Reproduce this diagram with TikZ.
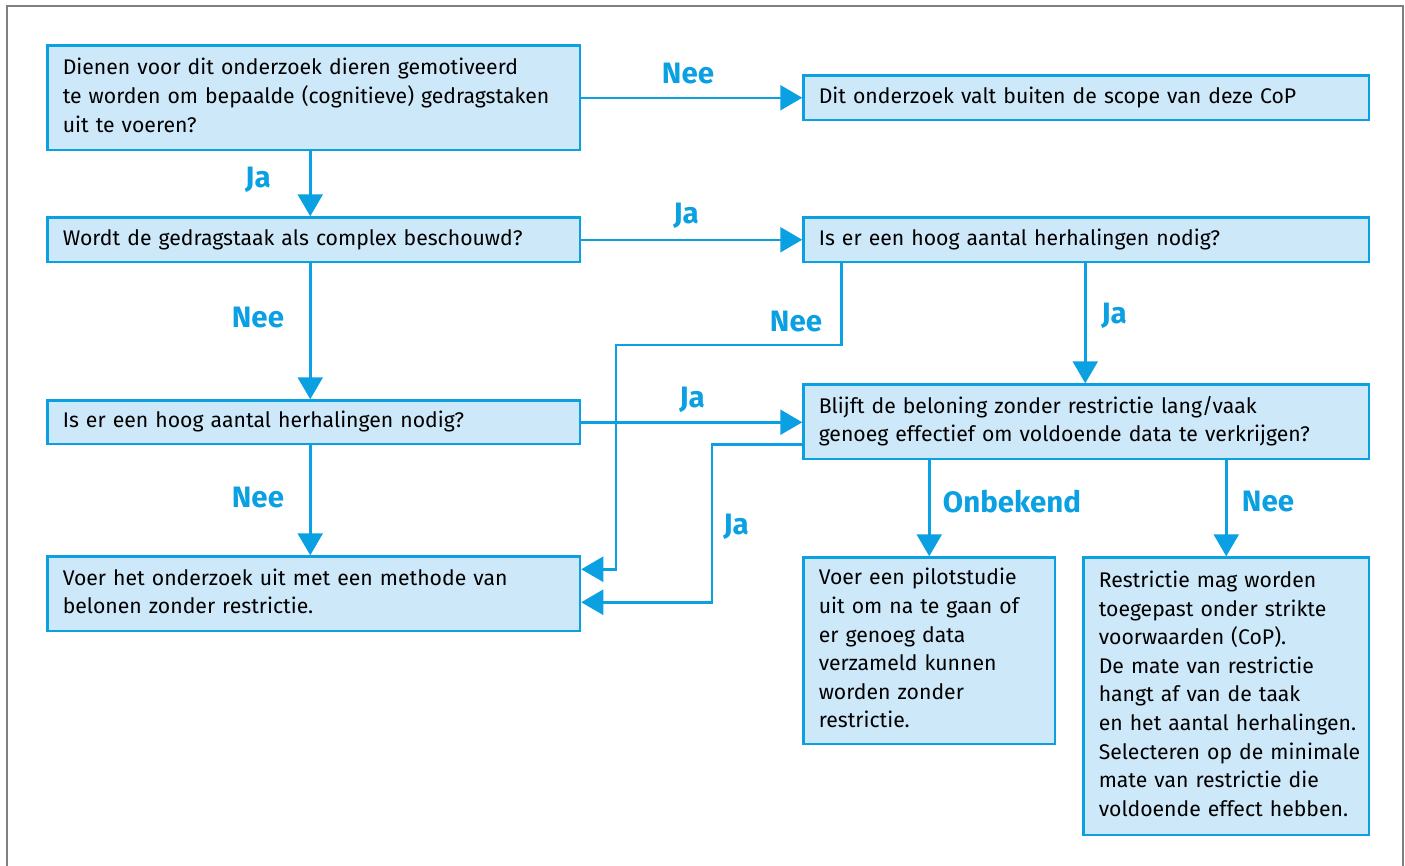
\documentclass[tikz,border=0pt]{standalone}
\usepackage{fontspec}
\setmainfont{Fira Sans}
\usetikzlibrary{arrows.meta,calc}
\definecolor{rblue}{HTML}{0AA0E2}
\definecolor{rfill}{HTML}{CDE8F9}
\definecolor{frame}{HTML}{808080}
\newcommand{\lines}[1]{\begin{tabular}{@{}l@{}}#1\end{tabular}}
\begin{document}
\begin{tikzpicture}[x=1pt,y=-1pt,
  box/.style={draw=rblue,fill=rfill,line width=2.5pt,rectangle,inner xsep=15pt,inner ysep=0pt,
    align=left,font=\fontsize{21.2}{28.6}\selectfont,anchor=north west},
  arr/.style={draw=rblue,line width=2.5pt,-{Triangle[length=22pt,width=25pt]}},
  lab/.style={text=rblue,font=\fontsize{29.5}{32}\selectfont\bfseries,inner sep=0pt}
]
\useasboundingbox (0,0) rectangle (1405,865);
\draw[frame,line width=2pt] (7,866) -- (7,6) -- (1403,6) -- (1403,866);

\node[box,minimum width=532.5pt,minimum height=104.5pt,text width=502pt] (q1) at (46.25,44.25)
  {\lines{Dienen voor dit onderzoek dieren gemotiveerd\\te worden om bepaalde (cognitieve) gedragstaken\\uit te voeren?}};
\node[box,minimum width=565.5pt,minimum height=44.5pt,text width=535pt] (scope) at (802.25,74.25)
  {\lines{Dit onderzoek valt buiten de scope van deze CoP}};
\node[box,minimum width=532.5pt,minimum height=44.5pt,text width=502pt] (q2) at (46.25,216.25)
  {\lines{Wordt de gedragstaak als complex beschouwd?}};
\node[box,minimum width=565.5pt,minimum height=44.5pt,text width=535pt] (q3r) at (802.25,216.25)
  {\lines{Is er een hoog aantal herhalingen nodig?}};
\node[box,minimum width=532.5pt,minimum height=43.5pt,text width=502pt] (q3l) at (46.25,399.25)
  {\lines{Is er een hoog aantal herhalingen nodig?}};
\node[box,minimum width=565.5pt,minimum height=74.5pt,text width=535pt] (q4) at (802.25,383.25)
  {\lines{Blijft de beloning zonder restrictie lang/vaak\\genoeg effectief om voldoende data te verkrijgen?}};
\node[box,minimum width=532.5pt,minimum height=74.5pt,text width=502pt] (res) at (46.25,555.25)
  {\lines{Voer het onderzoek uit met een methode van\\belonen zonder restrictie.}};
\node[box,minimum width=251.5pt,minimum height=186.5pt,text width=221pt] (pilot) at (802.25,556.25)
  {\lines{Voer een pilotstudie\\uit om na te gaan of\\er genoeg data\\verzameld kunnen\\worden zonder\\restrictie.}};
\node[box,minimum width=285.5pt,minimum height=277.5pt,text width=255pt] (restr) at (1082.25,556.25)
  {\lines{Restrictie mag worden\\toegepast onder strikte\\voorwaarden (CoP).\\De mate van restrictie\\hangt af van de taak\\en het aantal herhalingen.\\Selecteren op de minimale\\mate van restrictie die\\voldoende effect hebben.}};

\coordinate (c1) at (616,345);
\coordinate (c2) at (712,500);

\draw[arr] (q1.east) -- (q1.east -| scope.west);
\draw[arr] ([xshift=-3.5pt]q1.south) -- ([xshift=-3.5pt]q1.south |- q2.north);
\draw[arr] (q2.east) -- (q2.east -| q3r.west);
\draw[arr] ([xshift=-3.5pt]q2.south) -- ([xshift=-3.5pt]q2.south |- q3l.north);
\draw[arr] ([xshift=-3.5pt]q3l.south) -- ([xshift=-3.5pt]q3l.south |- res.north);
\draw[arr] ([xshift=-1pt]q3r.south) -- ([xshift=-1pt]q3r.south |- q4.north);
\draw[arr] (q3l.east) -- (q3l.east -| q4.west);
\draw[arr] ([xshift=39pt]q3r.south west) |- (c1) |- ([yshift=24.5pt]res.east);
\draw[arr] ([yshift=-22.5pt]q4.west) -| (c2) |- ([yshift=-8.5pt]res.east);
\draw[arr] (q4.south -| pilot.north) -- (pilot.north);
\draw[arr] (q4.south -| restr.north) -- (restr.north);

\node[lab] (l1) at (688,74) {Nee};
\node[lab] (l2) at (258,180) {Ja};
\node[lab] (l3) at (686,216) {Ja};
\node[lab] (l4) at (258,318) {Nee};
\node[lab] (l5) at (1114,316) {Ja};
\node[lab] (l6) at (796,322) {Nee};
\node[lab] (l7) at (692,400) {Ja};
\node[lab] (l8) at (258,498) {Nee};
\node[lab] (l9) at (736,527) {Ja};
\node[lab] (l10) at (1012,502) {Onbekend};
\node[lab] (l11) at (1268,502) {Nee};
\end{tikzpicture}
\end{document}
